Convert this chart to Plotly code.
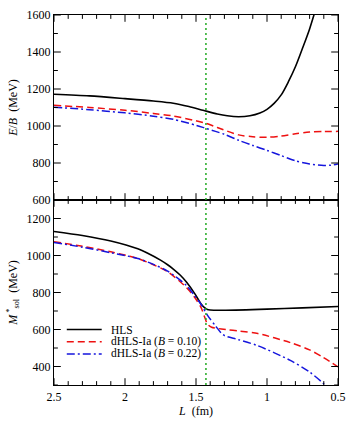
import plotly.graph_objects as go

# ---------------- data ----------------
# Top panel: E/B (MeV) vs L (fm)
L_top_hls = [2.5, 2.25, 2.0, 1.8, 1.66, 1.55, 1.45, 1.35, 1.28, 1.2, 1.12, 1.05, 1.0, 0.95, 0.9, 0.85, 0.8, 0.75, 0.7, 0.65]
E_top_hls = [1172, 1163, 1148, 1135, 1123, 1105, 1085, 1065, 1055, 1050, 1055, 1070, 1090, 1122, 1168, 1238, 1320, 1420, 1525, 1650]

L_top_a = [2.5, 2.25, 2.0, 1.8, 1.66, 1.5, 1.43, 1.35, 1.2, 1.1, 1.0, 0.9, 0.8, 0.7, 0.6, 0.5]
E_top_a = [1112, 1100, 1085, 1068, 1054, 1028, 1015, 992, 952, 942, 939, 946, 958, 967, 970, 971]

L_top_b = [2.5, 2.25, 2.0, 1.8, 1.66, 1.5, 1.43, 1.3, 1.2, 1.1, 1.0, 0.9, 0.8, 0.7, 0.6, 0.55, 0.5]
E_top_b = [1102, 1088, 1071, 1053, 1036, 1004, 987, 955, 923, 895, 868, 840, 812, 795, 787, 788, 795]

# Bottom panel: M*_sol (MeV) vs L (fm)
L_bot_hls = [2.5, 2.3, 2.1, 1.91, 1.84, 1.75, 1.70, 1.66, 1.61, 1.566, 1.51, 1.464, 1.44, 1.42, 1.40, 1.29, 1.0, 0.75, 0.5]
M_bot_hls = [1130, 1108, 1078, 1036, 1012, 975, 950, 927, 893, 855, 795, 738, 718, 708, 705, 704, 710, 717, 724]

L_bot_a = [2.5, 2.3, 2.1, 1.91, 1.8, 1.703, 1.566, 1.51, 1.464, 1.44, 1.418, 1.39, 1.36, 1.29, 1.2, 1.064, 0.836, 0.7, 0.607, 0.5]
M_bot_a = [1075, 1050, 1020, 984, 950, 914, 826, 774, 718, 669, 628, 612, 607, 600, 592, 578, 529, 490, 450, 398]

L_bot_b = [2.5, 2.3, 2.1, 1.91, 1.8, 1.703, 1.566, 1.51, 1.464, 1.42, 1.36, 1.315, 1.29, 1.2, 1.064, 0.836, 0.7, 0.607, 0.58]
M_bot_b = [1070, 1045, 1015, 984, 952, 917, 837, 783, 735, 678, 617, 575, 564, 545, 512, 433, 370, 311, 290]

L_mark = 1.43  # vertical dotted line

# tick positions
x_major = [2.5, 2.0, 1.5, 1.0, 0.5]
y_top_major = [600, 800, 1000, 1200, 1400, 1600]
y_bot_major = [400, 600, 800, 1000, 1200]

names = ["HLS", "dHLS-Ia (<i>B</i> = 0.10)", "dHLS-Ia (<i>B</i> = 0.22)"]
colors = ["black", "#ee1111", "#1515dd"]
dashes = ["solid", "7px,4px", "8px,3px,2px,3px"]
widths = [1.6, 1.5, 1.5]

FONT = "Liberation Serif"

fig = go.Figure()

top_sets = [(L_top_hls, E_top_hls), (L_top_a, E_top_a), (L_top_b, E_top_b)]
bot_sets = [(L_bot_hls, M_bot_hls), (L_bot_a, M_bot_a), (L_bot_b, M_bot_b)]

for i, (x, y) in enumerate(top_sets):
    fig.add_trace(go.Scatter(x=x, y=y, mode="lines", xaxis="x2", yaxis="y2",
                             line=dict(color=colors[i], dash=dashes[i], width=widths[i],
                                       shape="spline", smoothing=0.8),
                             showlegend=False, name=names[i]))
for i, (x, y) in enumerate(bot_sets):
    fig.add_trace(go.Scatter(x=x, y=y, mode="lines", xaxis="x", yaxis="y",
                             line=dict(color=colors[i], dash=dashes[i], width=widths[i],
                                       shape="spline", smoothing=0.8),
                             showlegend=False, name=names[i]))

common_x = dict(range=[2.5, 0.5], tickmode="array", tickvals=x_major,
                ticktext=["2.5", "2", "1.5", "1", "0.5"], ticks="",
                showline=True, linecolor="black", linewidth=1.2, mirror=True,
                showgrid=False, zeroline=False,
                tickfont=dict(family=FONT, size=12, color="black"))
common_y = dict(tickmode="array", ticks="", showline=True, linecolor="black", linewidth=1.2,
                mirror=True, showgrid=False, zeroline=False,
                tickfont=dict(family=FONT, size=12, color="black"))

fig.update_layout(
    width=354, height=424,
    margin=dict(l=54, r=8, t=9, b=34),
    paper_bgcolor="white", plot_bgcolor="white",
    font=dict(family=FONT, size=12, color="black"),
    xaxis=dict(**common_x, domain=[0, 1], anchor="y",
               title=dict(text="<i>L</i>&nbsp; (fm)", font=dict(family=FONT, size=12, color="black"),
                          standoff=4)),
    xaxis2=dict(**common_x, domain=[0, 1], anchor="y2", showticklabels=False),
    yaxis=dict(**common_y, domain=[0, 0.5], range=[300, 1300], tickvals=y_bot_major, anchor="x",
               title=dict(text="<i>M</i><sup> *</sup><sub>sol</sub>&nbsp; (MeV)",
                          font=dict(family=FONT, size=12, color="black"), standoff=6)),
    yaxis2=dict(**common_y, domain=[0.5, 1], range=[600, 1600], tickvals=y_top_major, anchor="x2",
                title=dict(text="<i>E</i>/<i>B</i>&nbsp; (MeV)",
                           font=dict(family=FONT, size=12, color="black"), standoff=6)),
    showlegend=False,
)

# ---- tick marks drawn inside each panel, on all four sides ----
PLOT_W, PANEL_H = 292.0, 190.5
MAJ, MIN = 7.0, 4.0
tick_line = dict(color="black", width=1)

x_minor = [round(0.5 + 0.1 * k, 2) for k in range(21)]
for xa, ya in [("x", "y"), ("x2", "y2")]:
    for v in x_minor:
        ln = MAJ if any(abs(v - m) < 1e-6 for m in x_major) else MIN
        f = ln / PANEL_H
        fig.add_shape(type="line", xref=xa, yref=ya + " domain", x0=v, x1=v, y0=0, y1=f, line=tick_line)
        fig.add_shape(type="line", xref=xa, yref=ya + " domain", x0=v, x1=v, y0=1, y1=1 - f, line=tick_line)

for xa, ya, lo, hi, majors in [("x", "y", 300, 1300, y_bot_major), ("x2", "y2", 600, 1600, y_top_major)]:
    for v in range(lo, hi + 1, 100):
        ln = MAJ if v in majors else MIN
        f = ln / PLOT_W
        fig.add_shape(type="line", xref=xa + " domain", yref=ya, x0=0, x1=f, y0=v, y1=v, line=tick_line)
        fig.add_shape(type="line", xref=xa + " domain", yref=ya, x0=1, x1=1 - f, y0=v, y1=v, line=tick_line)

# vertical dotted marker through both panels
fig.add_shape(type="line", xref="x", yref="paper", x0=L_mark, x1=L_mark, y0=0, y1=1,
              line=dict(color="#22aa22", width=1.5, dash="2px,3px"))

# hand-drawn legend inside bottom panel
leg_y = [0.150, 0.117, 0.084]
for i in range(3):
    fig.add_shape(type="line", xref="paper", yref="paper", x0=0.045, x1=0.168,
                  y0=leg_y[i], y1=leg_y[i],
                  line=dict(color=colors[i], dash=dashes[i], width=widths[i]))
    fig.add_annotation(xref="paper", yref="paper", x=0.197, y=leg_y[i], text=names[i],
                       showarrow=False, xanchor="left", yanchor="middle", borderpad=0,
                       font=dict(family=FONT, size=11.5, color="black"))

fig.write_html("out.html")
